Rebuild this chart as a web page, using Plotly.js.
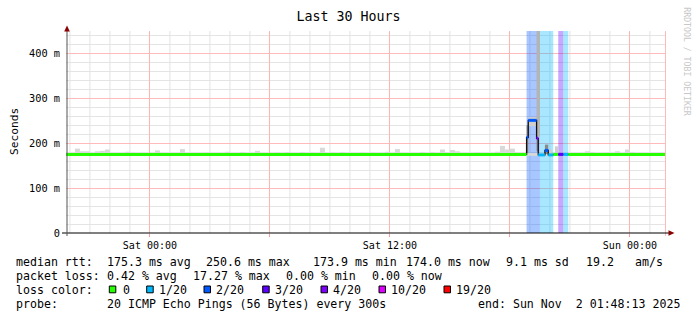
<!DOCTYPE html>
<html><head><meta charset="utf-8">
<script src="https://cdn.plot.ly/plotly-3.0.1.min.js"></script>
<style>html,body{margin:0;padding:0;background:#fff}#chart{width:697px;height:321px}</style>
</head><body><div id="chart"></div>
<script>
// ---------------- data ----------------
const rangeStart = '2025-10-31 19:48:13';
const rangeEnd = '2025-11-02 01:48:13';
const xTick0 = '2025-11-01 00:00';
const xTickFormat = '%a %H:%M';
const yTickVals = [0, 0.1, 0.2, 0.3, 0.4];
const yTickText = ['0', '100 m', '200 m', '300 m', '400 m'];

// smoke (15-minute slots starting at Fri 19:45), top of the ping spread in ms
const smokeSlotStart = '2025-10-31 19:45:00';
const smokeLowMs = 172;
const smokeTopMs = [
  178,178,188,182,182,178,182,183,186,178,
  178,178,181,179,178,178,178,178,184,178,
  178,178,178,187,178,178,178,178,179,178,
  178,178,181,178,178,180,178,178,183,178,
  178,178,179,178,180,178,178,180,178,179,
  178,190,178,179,178,180,178,178,178,179,
  178,179,178,178,181,178,187,178,178,178,
  178,180,178,180,178,186,179,185,182,178,
  178,178,179,178,178,178,181,194,186,188,
  179,178,178,178,178,178,178,178,178,178,
  178,178,178,178,182,180,178,178,179,178,
  182,178,186,180,178,178,178,178,178,178,178
];

// smoke during the event (ms)
const lightSmokeStart = ['2025-11-01 18:55', '2025-11-01 19:55', '2025-11-01 20:15'];
const lightSmokeEnd   = ['2025-11-01 19:20', '2025-11-01 20:05', '2025-11-01 20:25'];
const lightSmokeLow   = [238, 176, 176];
const lightSmokeHigh  = [258, 186, 193];
const midSmokeStart = ['2025-11-01 19:20'];
const midSmokeEnd   = ['2025-11-01 19:30'];
const midSmokeLow   = [215];
const midSmokeHigh  = [470];
const darkSmokeStart = ['2025-11-01 18:50', '2025-11-01 19:20', '2025-11-01 19:45'];
const darkSmokeEnd   = ['2025-11-01 18:55', '2025-11-01 19:25', '2025-11-01 19:55'];
const darkSmokeLow   = [178, 182, 176];
const darkSmokeHigh  = [240, 212, 197];

// packet-loss bands
const lossStart = ['2025-11-01 18:50', '2025-11-01 19:30', '2025-11-01 20:25', '2025-11-01 20:40'];
const lossEnd   = ['2025-11-01 19:30', '2025-11-01 20:10', '2025-11-01 20:40', '2025-11-01 20:55'];
const lossLevel = [2, 1, 3, 1];

// median rtt (ms), step series, with loss level for each step
const medTimes = ['2025-10-31 19:45', '2025-11-01 18:50', '2025-11-01 18:55', '2025-11-01 19:20',
  '2025-11-01 19:25', '2025-11-01 19:45', '2025-11-01 19:55', '2025-11-01 20:10',
  '2025-11-01 20:25', '2025-11-01 20:40', '2025-11-01 20:55', '2025-11-02 01:50'];
const medVals = [175, 213, 251, 211, 174, 184, 174, 175, 175, 175, 175, 175];
const medLoss = [0, 2, 2, 4, 1, 2, 1, 0, 3, 1, 0, 0];

// legend / stats text
const legendLevels = [0, 1, 2, 3, 4, 10, 19];
const legendLabels = ['0', '1/20', '2/20', '3/20', '4/20', '10/20', '19/20'];
const rttStats = ['175.3 ms avg', '250.6 ms max', '173.9 ms min', '174.0 ms now', '9.1 ms sd', '19.2', 'am/s'];
const lossStats = ['0.42 % avg', '17.27 % max', '0.00 % min', '0.00 % now'];
const probeText = '20 ICMP Echo Pings (56 Bytes) every 300s';
const endText = 'end: Sun Nov\u00a0 2 01:48:13 2025';

// ---------------- styles ----------------
const lossColors = {0: '#26ff00', 1: '#00b8ff', 2: '#0059ff', 3: '#5e00ff', 4: '#7e00ff', 10: '#dd00ff', 19: '#ff0000'};
const lossRgb = {0: '38,255,0', 1: '0,184,255', 2: '0,89,255', 3: '94,0,255', 4: '126,0,255', 10: '221,0,255', 19: '255,0,0'};
const FONT = 'DejaVu Sans Mono, monospace';
const L = 66, R = 666, T = 31, B = 233, W = 697, H = 321;
const yTop = 0.45;
const px = x => (x - L) / (R - L);
const py = y => (B - y) / (B - T);

const toMs = s => Date.parse(s.replace(' ', 'T') + 'Z');
const fmt = ms => new Date(ms).toISOString().replace('T', ' ').slice(0, 19);
const HOUR = 3600000;

// ---------------- traces ----------------
const traces = [];

// loss bands
traces.push({
  type: 'bar', x: lossStart, base: lossStart.map(() => 0), y: lossStart.map(() => yTop * 1.1),
  width: lossStart.map((s, i) => toMs(lossEnd[i]) - toMs(s)), offset: 0,
  marker: {color: lossLevel.map(l => 'rgba(' + lossRgb[l] + ',0.34)'), line: {width: 0}},
  hoverinfo: 'skip'
});

// regular smoke
const slot0 = toMs(smokeSlotStart);
const slotW = 15 * 60000;
const slotX = smokeTopMs.map((_, i) => fmt(slot0 + i * slotW));
traces.push({
  type: 'bar', x: slotX, base: smokeTopMs.map(() => smokeLowMs / 1000),
  y: smokeTopMs.map(v => (v - smokeLowMs) / 1000), width: slotW, offset: 0,
  marker: {color: '#d9d9d9', line: {width: 0}}, hoverinfo: 'skip'
});

function smokeTrace(st, en, lo, hi, color) {
  return {
    type: 'bar', x: st, base: lo.map(v => v / 1000), y: hi.map((v, i) => (v - lo[i]) / 1000),
    width: st.map((s, i) => toMs(en[i]) - toMs(s)), offset: 0,
    marker: {color: color, line: {width: 0}}, hoverinfo: 'skip'
  };
}
traces.push(smokeTrace(lightSmokeStart, lightSmokeEnd, lightSmokeLow, lightSmokeHigh, '#cfcfcf'));
traces.push(smokeTrace(midSmokeStart, midSmokeEnd, midSmokeLow, midSmokeHigh, '#b4b4b4'));
traces.push(smokeTrace(darkSmokeStart, darkSmokeEnd, darkSmokeLow, darkSmokeHigh, '#8a8a8a'));

// median connecting line
traces.push({
  type: 'scatter', mode: 'lines', x: medTimes, y: medVals.map(v => v / 1000),
  line: {shape: 'hv', color: '#111', width: 1.3}, hoverinfo: 'skip'
});

// median coloured by loss
legendLevels.forEach(lv => {
  const xs = [], ys = [];
  for (let i = 0; i < medTimes.length - 1; i++) {
    if (medLoss[i] !== lv) continue;
    xs.push(medTimes[i], medTimes[i + 1], null);
    ys.push(medVals[i] / 1000, medVals[i] / 1000, null);
  }
  if (xs.length) traces.push({
    type: 'scatter', mode: 'lines', x: xs, y: ys, connectgaps: false,
    line: {color: lossColors[lv], width: 3}, hoverinfo: 'skip'
  });
});

// ---------------- annotations & shapes ----------------
const ann = [];
const shapes = [];

// hourly minor grid (skipping the 6-hour major lines drawn by the axis)
for (let t = Math.ceil(toMs(rangeStart) / HOUR) * HOUR; t <= toMs(rangeEnd); t += HOUR) {
  if (new Date(t).getUTCHours() % 6 === 0) continue;
  shapes.push({type: 'line', xref: 'x', yref: 'paper', x0: fmt(t), x1: fmt(t), y0: 0, y1: 1,
    layer: 'below', line: {color: '#e2e2e2', width: 1}});
}

function txt(x, yc, s, opts) {
  ann.push(Object.assign({
    xref: 'paper', yref: 'paper', x: px(x), y: py(yc), text: s, showarrow: false,
    xanchor: 'left', yanchor: 'middle', borderpad: 0, borderwidth: 0,
    font: {family: FONT, size: 11.6, color: '#000'}
  }, opts || {}));
}
const lineY = [261.5, 275.5, 289.5, 303.5];
const rttX = [107.3, 206.7, 313.3, 406.7, 506.7, 586.7, 635];
const lossX = [107.3, 193.3, 286.7, 372.7];
const boxX = [109.3, 146.7, 204, 262.7, 321, 379, 444];
const labX = [123.3, 159.3, 216.7, 275, 333.3, 391.7, 456.7];

txt(16.2, lineY[0], 'median rtt:');
rttStats.forEach((s, i) => txt(rttX[i] - 0.5, lineY[0], s));
txt(16.2, lineY[1], 'packet loss:');
lossStats.forEach((s, i) => txt(lossX[i] - 0.5, lineY[1], s));
txt(16.2, lineY[2], 'loss color:');
legendLabels.forEach((s, i) => {
  txt(labX[i] - 0.5, lineY[2], s);
  shapes.push({type: 'rect', xref: 'paper', yref: 'paper', x0: px(boxX[i]), x1: px(boxX[i] + 6.5),
    y0: py(286), y1: py(292.8), fillcolor: lossColors[legendLevels[i]], line: {color: '#000', width: 1}});
});
txt(16.2, lineY[3], 'probe:');
txt(107.3 - 0.5, lineY[3], probeText);
txt(478.3 - 0.5, lineY[3], endText);

// axis title
ann.push({xref: 'paper', yref: 'paper', x: px(14.5), y: py(131.5), text: 'Seconds', showarrow: false,
  textangle: -90, xanchor: 'center', yanchor: 'middle', font: {family: FONT, size: 11.2, color: '#000'}});
// watermark
ann.push({xref: 'paper', yref: 'paper', x: px(686.7), y: py(62), text: 'RRDTOOL / TOBI OETIKER', showarrow: false,
  textangle: 90, xanchor: 'center', yanchor: 'middle', font: {family: FONT, size: 8.2, color: '#c8c8c8'}});

// axes lines & arrows
shapes.push({type: 'line', xref: 'paper', yref: 'paper', x0: px(665.5), x1: px(665.5), y0: py(B + 3), y1: py(T),
  line: {color: '#ffbbbb', width: 1}});
shapes.push({type: 'line', xref: 'paper', yref: 'paper', x0: px(62), x1: px(670), y0: 0, y1: 0,
  line: {color: '#000', width: 1}});
shapes.push({type: 'line', xref: 'paper', yref: 'paper', x0: px(67), x1: px(67), y0: py(B + 3), y1: py(28),
  line: {color: '#555', width: 1}});
shapes.push({type: 'path', xref: 'paper', yref: 'paper',
  path: 'M' + px(67) + ',' + py(25.5) + ' L' + px(64.2) + ',' + py(31.5) + ' L' + px(69.8) + ',' + py(31.5) + ' Z',
  fillcolor: '#8b0000', line: {width: 0}});
shapes.push({type: 'path', xref: 'paper', yref: 'paper',
  path: 'M' + px(674.5) + ',' + py(233) + ' L' + px(668.5) + ',' + py(230.2) + ' L' + px(668.5) + ',' + py(235.8) + ' Z',
  fillcolor: '#8b0000', line: {width: 0}});

const layout = {
  width: W, height: H,
  margin: {l: L, r: W - R, t: T, b: H - B, pad: 0},
  paper_bgcolor: '#fff', plot_bgcolor: '#fff',
  showlegend: false, barmode: 'overlay', hovermode: false,
  title: {text: 'Last 30 Hours', font: {family: FONT, size: 13.3, color: '#000'},
    x: 0.5, xref: 'container', xanchor: 'center', y: 1 - 16 / H, yref: 'container', yanchor: 'middle'},
  xaxis: {
    type: 'date', range: [rangeStart, rangeEnd],
    tickmode: 'linear', tick0: xTick0, dtick: 6 * HOUR, ticklabelstep: 2, tickformat: xTickFormat,
    tickfont: {family: FONT, size: 10, color: '#000'}, ticks: 'outside', ticklen: 3, tickcolor: '#ff9a9a',
    showgrid: true, gridcolor: '#ffb4b4', gridwidth: 1, zeroline: false, showline: false, fixedrange: true
  },
  yaxis: {
    range: [0, yTop], tickvals: yTickVals, ticktext: yTickText,
    tickfont: {family: FONT, size: 10.3, color: '#000'}, ticks: '', ticklen: 0, ticklabelstandoff: 5,
    showgrid: true, gridcolor: '#ffbbbb', gridwidth: 1, zeroline: false, showline: false, fixedrange: true,
    minor: {dtick: 0.02, showgrid: true, gridcolor: '#e4e4e4', ticks: ''}
  },
  annotations: ann, shapes: shapes
};

Plotly.newPlot('chart', traces, layout, {staticPlot: true, displayModeBar: false});
</script>
</body></html>
